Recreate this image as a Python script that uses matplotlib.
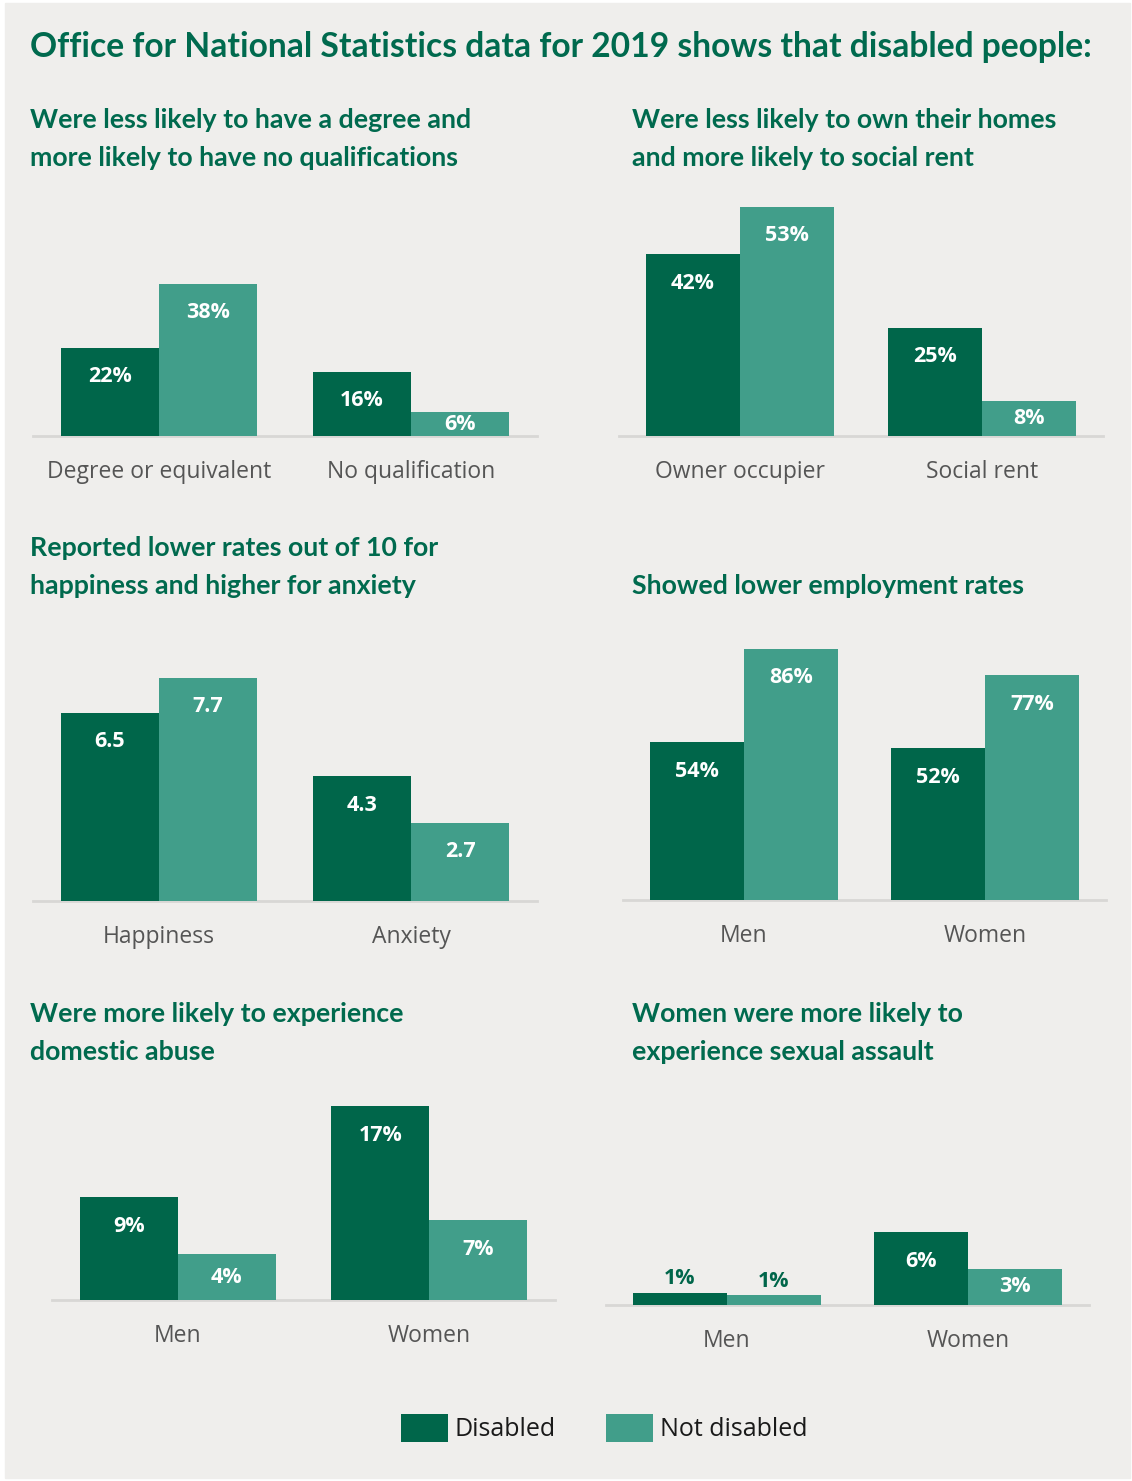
import matplotlib.pyplot as plt
from matplotlib.patches import Rectangle, Patch

W, H = 1132, 1481
DARK = "#00664a"
LIGHT = "#419e8a"
BG = "#efeeec"
HEAD = "#006a4e"

main_title = "Office for National Statistics data for 2019 shows that disabled people:"

# education
edu_cats = ["Degree or equivalent", "No qualification"]
edu_disabled = [22, 16]
edu_not = [38, 6]
# housing
home_cats = ["Owner occupier", "Social rent"]
home_disabled = [42, 25]
home_not = [53, 8]
# wellbeing (out of 10)
wb_cats = ["Happiness", "Anxiety"]
wb_disabled = [6.5, 4.3]
wb_not = [7.7, 2.7]
# employment
emp_cats = ["Men", "Women"]
emp_disabled = [54, 52]
emp_not = [86, 77]
# domestic abuse
abuse_cats = ["Men", "Women"]
abuse_disabled = [9, 17]
abuse_not = [4, 7]
# sexual assault
assault_cats = ["Men", "Women"]
assault_disabled = [1.0, 6.0]
assault_not = [0.8, 3.0]

subtitles = [
    "Were less likely to have a degree and\nmore likely to have no qualifications",
    "Were less likely to own their homes\nand more likely to social rent",
    "Reported lower rates out of 10 for\nhappiness and higher for anxiety",
    "Showed lower employment rates",
    "Were more likely to experience\ndomestic abuse",
    "Women were more likely to\nexperience sexual assault",
]

fig = plt.figure(figsize=(W / 100, H / 100), dpi=100)
fig.patch.set_facecolor("white")
fig.patches.append(Rectangle((5 / W, 3 / H), (W - 7) / W, (H - 6) / H,
                             transform=fig.transFigure, color=BG, zorder=-10))


def fx(x):
    return x / W


def fy(y):
    return 1 - y / H


fig.text(fx(30), fy(47), main_title, color=HEAD, fontsize=24.2, fontweight="bold",
         family="Lato", va="center", ha="left")

# (left, baseline, width, px per unit, title x, title y of first line, label fmt)
panels = [
    (33, 436, 504, 4.0, 30, 120, "{:.0f}%", edu_cats, edu_disabled, edu_not),
    (619, 436, 484, 4.33, 632, 120, "{:.0f}%", home_cats, home_disabled, home_not),
    (33, 901, 504, 29.0, 30, 548, "{:.1f}", wb_cats, wb_disabled, wb_not),
    (623, 900, 483, 2.92, 632, 586, "{:.0f}%", emp_cats, emp_disabled, emp_not),
    (52, 1300, 503, 11.4, 30, 1014, "{:.0f}%", abuse_cats, abuse_disabled, abuse_not),
    (606, 1305, 483, 12.1, 632, 1014, "{:.0f}%", assault_cats, assault_disabled, assault_not),
]

bw = 0.39
ax_h = 270
for i, (left, base, width, ppu, tx, ty, fmt, cats, dis, nd) in enumerate(panels):
    nlines = subtitles[i].count("\n") + 1
    fig.text(fx(tx), fy(ty + 19 * (nlines - 1)), subtitles[i], color=HEAD, fontsize=19.3,
             fontweight="bold", family="Lato", va="center", ha="left", linespacing=1.75)
    ax = fig.add_axes([fx(left), fy(base), width / W, ax_h / H])
    ax.set_facecolor("none")
    ax.set_xlim(-0.5, 1.5)
    ax.set_ylim(0, ax_h / ppu)
    xs = list(range(len(cats)))
    for vals, off, col in [(dis, -bw / 2, DARK), (nd, bw / 2, LIGHT)]:
        ax.bar([x + off for x in xs], vals, width=bw, color=col, zorder=3)
        for x, v in zip(xs, vals):
            hpx = v * ppu
            if hpx >= 55:
                ax.annotate(fmt.format(v), (x + off, v), xytext=(0, -29), textcoords="offset pixels",
                            ha="center", va="center", color="white", fontsize=15.5,
                            fontweight="bold", family="Open Sans", zorder=4)
            elif hpx >= 20:
                ax.annotate(fmt.format(v), (x + off, v / 2), ha="center", va="center",
                            color="white", fontsize=15.5, fontweight="bold",
                            family="Open Sans", zorder=4)
            else:
                ax.annotate(fmt.format(v), (x + off, v), xytext=(0, 14), textcoords="offset pixels",
                            ha="center", va="center", color=DARK, fontsize=15.5,
                            fontweight="bold", family="Open Sans", zorder=4)
    for s in ["top", "left", "right"]:
        ax.spines[s].set_visible(False)
    ax.spines["bottom"].set_color("#d8d7d5")
    ax.spines["bottom"].set_linewidth(2)
    ax.set_yticks([])
    ax.set_xticks(xs)
    ax.set_xticklabels(cats, fontsize=16.5, color="#555555", family="Open Sans")
    ax.tick_params(axis="x", length=0, pad=17.5)

handles = [Patch(facecolor=DARK, label="Disabled"), Patch(facecolor=LIGHT, label="Not disabled")]
leg = fig.legend(handles=handles, loc="center", bbox_to_anchor=(fx(604), fy(1428)), ncol=2,
                 frameon=False, handlelength=1.9, handleheight=1.4, handletextpad=0.25,
                 columnspacing=2.0, prop={"family": "Open Sans", "size": 18})
for t in leg.get_texts():
    t.set_color("#1a1a1a")

fig.savefig("out.png", dpi=100, facecolor=fig.get_facecolor())
